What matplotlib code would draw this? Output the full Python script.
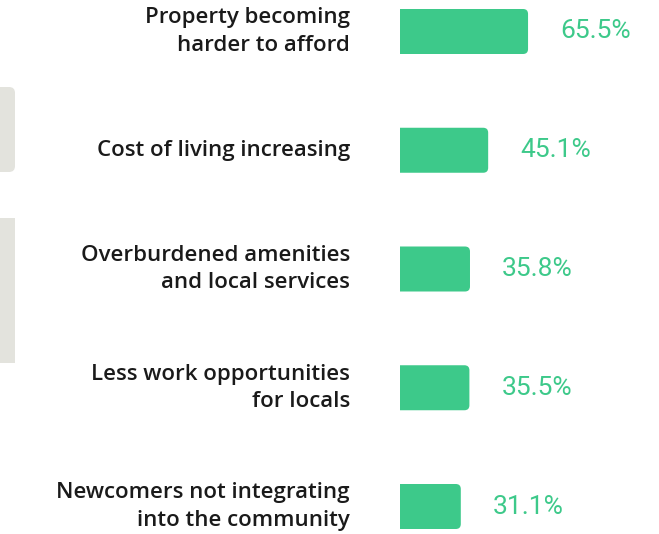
import matplotlib.pyplot as plt
from matplotlib.patches import FancyBboxPatch
from matplotlib.transforms import IdentityTransform

labels = [
    "Property becoming\nharder to afford",
    "Cost of living increasing",
    "Overburdened amenities\nand local services",
    "Less work opportunities\nfor locals",
    "Newcomers not integrating\ninto the community",
]
values = [65.5, 45.1, 35.8, 35.5, 31.1]
value_labels = [f"{v:.1f}%" for v in values]

GREEN = "#3dc98a"
GREY = "#e3e3dd"
W, H, DPI = 659, 534, 100

fig = plt.figure(figsize=(W / DPI, H / DPI), dpi=DPI)

# bar axes: starts at x=400px, 1% ~ 1.955 px
px_per_pct = 1.955
left_px = 400
ax = fig.add_axes([left_px / W, 0, (W - left_px) / W, 1])
ax.set_xlim(0, (W - left_px) / px_per_pct)
step_px = 118.75
first_px = 31.5
ax.set_ylim((H - first_px) / step_px, -first_px / step_px)
ax.axis("off")

bar_h = 45 / step_px
aspect = px_per_pct / step_px
radius = 5 / px_per_pct
for i, v in enumerate(values):
    patch = FancyBboxPatch(
        (-10, i - bar_h / 2), v + 10, bar_h,
        boxstyle=f"round,pad=0,rounding_size={radius}",
        mutation_aspect=aspect, facecolor=GREEN, edgecolor="none",
    )
    ax.add_patch(patch)
    ax.annotate(value_labels[i], xy=(v, i), xytext=(32, 0), textcoords="offset pixels",
                ha="left", va="center", fontsize=19, color=GREEN,
                family="Roboto", annotation_clip=False)
    ax.annotate(labels[i], xy=(0, i), xycoords=("axes fraction", "data"),
                xytext=(-50, 0), textcoords="offset pixels", ha="right", va="center",
                multialignment="right", fontsize=16, color="#1a1a1a",
                family="Open Sans", fontweight="semibold", linespacing=1.38,
                annotation_clip=False)

# partially visible grey panels at the left edge
fig.add_artist(FancyBboxPatch((-20, H - 172), 35, 85,
                              boxstyle="round,pad=0,rounding_size=6",
                              transform=IdentityTransform(),
                              facecolor=GREY, edgecolor="none"))
fig.add_artist(FancyBboxPatch((-20, H - 363), 35, 145,
                              boxstyle="square,pad=0",
                              transform=IdentityTransform(),
                              facecolor=GREY, edgecolor="none"))

fig.savefig("out.png", dpi=DPI)
